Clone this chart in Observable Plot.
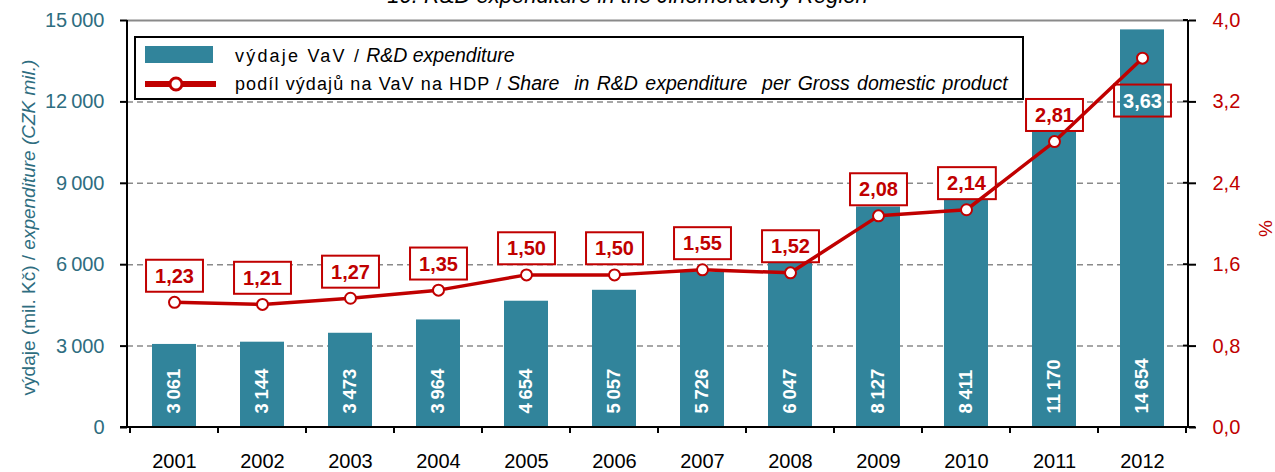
<!DOCTYPE html>
<html>
<head>
<meta charset="utf-8">
<script src="https://cdn.jsdelivr.net/npm/d3@7"></script>
<script src="https://cdn.jsdelivr.net/npm/@observablehq/plot@0.6"></script>
<style>
  html, body { margin: 0; padding: 0; background: #fff; }
  #wrap { position: relative; width: 1275px; height: 472px; overflow: hidden; font-family: "Liberation Sans", Arial, sans-serif; }
  #title { position: absolute; top: -15px; left: 0; width: 1255px; text-align: center; font-style: italic; font-size: 22px; line-height: 22px; color: #000; }
  #legend { position: absolute; left: 134px; top: 36px; width: 890px; height: 64px; box-sizing: border-box; border: 2px solid #000; background: #fff; }
  .lrow { position: absolute; left: 0; height: 28px; width: 100%; }
  .lrow svg { position: absolute; left: 9px; top: 0; }
  .lrow span { position: absolute; left: 99px; top: 0; line-height: 28px; font-size: 18px; color: #000; white-space: pre; }
  .lrow .sp { font-weight: normal; }
  .lrow i { font-size: 19.5px; }
</style>
</head>
<body>
<div id="wrap">
  <div id="chart"></div>
  <div id="title">10. R&amp;D expenditure in the Jihomoravský Region</div>
  <div id="legend">
    <div class="lrow" style="top:3px">
      <svg width="80" height="28"><rect x="0" y="5" width="68" height="17" fill="#31849B"></rect></svg>
      <span><b class="sp" style="letter-spacing:2.2px">výdaje VaV /</b> <i>R&amp;D expenditure</i></span>
    </div>
    <div class="lrow" style="top:31px">
      <svg width="80" height="28"><line x1="0" x2="71" y1="15" y2="15" stroke="#C00000" stroke-width="6"></line><circle cx="31" cy="15" r="6" fill="#fff" stroke="#C00000" stroke-width="3"></circle></svg>
      <span><b class="sp" style="letter-spacing:1.1px">podíl výdajů na VaV na HDP /</b> <i style="word-spacing:2px">Share  in R&amp;D expenditure  per Gross domestic product</i></span>
    </div>
  </div>
</div>
<script>
// ---- data ----
const years = ["2001","2002","2003","2004","2005","2006","2007","2008","2009","2010","2011","2012"];
const expenditure = [3061, 3144, 3473, 3964, 4654, 5057, 5726, 6047, 8127, 8411, 11170, 14654];
const share = [1.23, 1.21, 1.27, 1.35, 1.50, 1.50, 1.55, 1.52, 2.08, 2.14, 2.81, 3.63];
const leftTicks = [0, 3000, 6000, 9000, 12000, 15000];
const rightTicks = [0, 0.8, 1.6, 2.4, 3.2, 4.0];

const TEAL = "#31849B", RED = "#C00000", AXIS_TEAL = "#2E6D80";
const yMax = leftTicks[leftTicks.length - 1];
const shareMax = rightTicks[rightTicks.length - 1];
const ratio = yMax / shareMax;

const data = years.map((year, i) => ({year, exp: expenditure[i], share: share[i]}));
const lastYear = years[years.length - 1];

const thin = "\u2009";
const fmtThousands = v => d3.format(",")(v).replace(/,/g, thin);
const fmtShare = v => v.toFixed(2).replace(".", ",");

const plot = Plot.plot({
  width: 1275,
  height: 472,
  marginLeft: 127,
  marginRight: 87,
  marginTop: 20,
  marginBottom: 45,
  style: {fontFamily: "'Liberation Sans', Arial, sans-serif", background: "#fff", overflow: "visible"},
  x: {domain: years, paddingInner: 0.5, paddingOuter: 0.25},
  y: {domain: [0, yMax]},
  marks: [
    Plot.ruleY(leftTicks.filter(v => v > 0 && v < yMax), {stroke: "#8a8a8a", strokeWidth: 1.5, strokeDasharray: "6,4"}),
    Plot.ruleY([yMax], {stroke: "#8a8a8a", strokeWidth: 2}),
    Plot.barY(data, {x: "year", y: "exp", fill: TEAL}),
    Plot.text(data, {x: "year", y: 0, text: d => fmtThousands(d.exp), rotate: -90, textAnchor: "start", dy: -14,
      fill: "#fff", fontWeight: "bold", fontSize: 18.5}),
    Plot.axisY(leftTicks, {anchor: "left", tickFormat: fmtThousands, tickSize: 7, tickPadding: 16,
      fontSize: 20, fill: AXIS_TEAL, stroke: "#000", strokeWidth: 2, label: null}),
    Plot.axisY(rightTicks.map(v => v * ratio), {anchor: "right", tickFormat: v => (v / ratio).toFixed(1).replace(".", ","),
      tickSize: 7, tickPadding: 17, fontSize: 20, fill: RED, stroke: "#000", strokeWidth: 2, label: null}),
    Plot.axisX({tickSize: 0, tickPadding: 26, fontSize: 20, fill: "#000", label: null}),
    Plot.text(data.filter(d => d.year !== lastYear), {x: "year", y: d => d.share * ratio, text: d => fmtShare(d.share),
      dy: -26, fill: RED, fontWeight: "bold", fontSize: 20, lineAnchor: "middle", ariaDescription: "share-label"}),
    Plot.line(data, {x: "year", y: d => d.share * ratio, stroke: RED, strokeWidth: 3.5}),
    Plot.dot(data, {x: "year", y: d => d.share * ratio, r: 5.5, fill: "#fff", stroke: RED, strokeWidth: 2}),
    Plot.text(data.filter(d => d.year === lastYear), {x: "year", y: d => d.share * ratio, text: d => fmtShare(d.share),
      dy: 43, fill: "#fff", fontWeight: "bold", fontSize: 20, lineAnchor: "middle", ariaDescription: "share-label-last"})
  ]
});

document.getElementById("chart").append(plot);

// ---- decorations derived from the plot's scales ----
const svg = d3.select(plot);
const xs = plot.scale("x"), ys = plot.scale("y");
const [xL, xR] = xs.range;
const [yB, yT] = ys.range;
const deco = svg.append("g").attr("stroke", "#000").attr("stroke-width", 2);
// axis lines
deco.append("line").attr("x1", xL).attr("x2", xL).attr("y1", yT).attr("y2", yB);
deco.append("line").attr("x1", xR).attr("x2", xR).attr("y1", yT).attr("y2", yB);
deco.append("line").attr("x1", xL - 7).attr("x2", xR + 7).attr("y1", yB).attr("y2", yB);
// inward part of right ticks
rightTicks.forEach(v => {
  const y = ys.apply(v * ratio);
  deco.append("line").attr("x1", xR - 5).attr("x2", xR).attr("y1", y).attr("y2", y);
});
// category boundary ticks
const gap = (xs.step - xs.bandwidth) / 2;
const bounds = years.map(y => xs.apply(y) - gap).concat([xs.apply(lastYear) + xs.bandwidth + gap]);
bounds.forEach(bx => {
  deco.append("line").attr("x1", bx).attr("x2", bx).attr("y1", yB).attr("y2", yB + 6);
});

// boxes around share labels
function boxLabels(desc, fill) {
  const groups = Array.from(plot.querySelectorAll("g")).filter(g => g.getAttribute("aria-description") === desc);
  groups.forEach(g => {
    g.querySelectorAll("text").forEach(t => {
      const b = t.getBBox();
      const r = document.createElementNS("http://www.w3.org/2000/svg", "rect");
      const tr = t.getAttribute("transform");
      if (tr) r.setAttribute("transform", tr);
      r.setAttribute("x", b.x - 9);
      r.setAttribute("y", b.y + b.height / 2 - 16);
      r.setAttribute("width", b.width + 18);
      r.setAttribute("height", 32);
      r.setAttribute("fill", fill);
      r.setAttribute("stroke", RED);
      r.setAttribute("stroke-width", 2);
      t.parentNode.insertBefore(r, t);
    });
  });
}
boxLabels("share-label", "#fff");
boxLabels("share-label-last", "none");

// axis titles
const lt = svg.append("text")
  .attr("transform", `translate(30,${(yT + yB) / 2 + 4}) rotate(-90)`)
  .attr("text-anchor", "middle").attr("dominant-baseline", "middle")
  .attr("fill", AXIS_TEAL).attr("font-size", 19);
lt.append("tspan").text("výdaje (mil. Kč) / ");
lt.append("tspan").attr("font-style", "italic").text("expenditure (CZK mil.)");
svg.append("text")
  .attr("transform", `translate(${xR + 79},${(yT + yB) / 2 + 5}) rotate(-90)`)
  .attr("text-anchor", "middle").attr("dominant-baseline", "middle")
  .attr("fill", RED).attr("font-size", 19).text("%");
</script>
</body>
</html>
